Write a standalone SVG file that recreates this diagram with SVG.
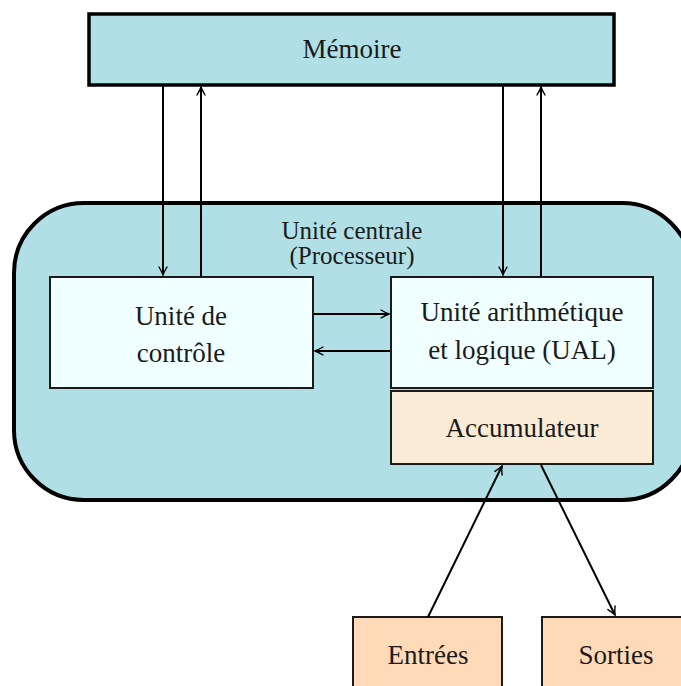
<svg xmlns="http://www.w3.org/2000/svg" width="681" height="686" viewBox="0 0 681 686">
<defs>
<marker id="arr" viewBox="-10 -5 12 10" refX="0" refY="0" markerWidth="12" markerHeight="10" markerUnits="userSpaceOnUse" orient="auto">
<path d="M-8,-4 Q-3,-1 0,0 Q-3,1 -8,4" fill="none" stroke="#000" stroke-width="1.4" stroke-linecap="round"/>
</marker>
<style>
text{font-family:'Liberation Serif','Times New Roman',Times,'DejaVu Serif',serif;font-size:27px;fill:#1a1a1a;text-anchor:middle}
.t{font-size:25px}
.c{stroke:#000;stroke-width:2;fill:none;marker-end:url(#arr)}
.box{stroke:#1a1a1a;stroke-width:2}
</style>
</defs>
<g id="memoire">
<rect x="89" y="14" width="525" height="71" fill="#b0e0e6" stroke="#000" stroke-width="3.5"/>
<text x="352" y="58" font-family="Liberation Serif, serif">Mémoire</text>
</g>
<g id="unite-centrale">
<rect x="14" y="203" width="678" height="297" rx="70" ry="70" fill="#b0e0e6" stroke="#000" stroke-width="4"/>
<text class="t" x="352" y="239">Unité centrale</text>
<text class="t" x="352" y="264">(Processeur)</text>
</g>
<g id="controle">
<rect class="box" x="50" y="277" width="263" height="111" fill="#f0ffff"/>
<text x="181" y="325">Unité de</text>
<text x="181" y="362">contrôle</text>
</g>
<g id="ual">
<rect class="box" x="391" y="277" width="262" height="111" fill="#f0ffff"/>
<text x="522" y="321">Unité arithmétique</text>
<text x="522" y="359">et logique (UAL)</text>
</g>
<g id="accumulateur">
<rect class="box" x="391" y="391" width="262" height="73" fill="#faebd7"/>
<text x="522" y="437">Accumulateur</text>
</g>
<g id="entrees">
<rect class="box" x="353" y="617" width="149" height="80" fill="#ffdab9"/>
<text x="428" y="664">Entrées</text>
</g>
<g id="sorties">
<rect class="box" x="542" y="617" width="149" height="80" fill="#ffdab9"/>
<text x="616" y="664">Sorties</text>
</g>
<g id="connectors">
<line class="c" x1="163" y1="86" x2="163" y2="275"/>
<line class="c" x1="201" y1="276" x2="201" y2="87"/>
<line class="c" x1="503" y1="86" x2="503" y2="275"/>
<line class="c" x1="541" y1="276" x2="541" y2="87"/>
<line class="c" x1="314" y1="314" x2="389" y2="314"/>
<line class="c" x1="390" y1="351" x2="315" y2="351"/>
<line class="c" x1="428" y1="617" x2="502" y2="466"/>
<line class="c" x1="541" y1="465" x2="615" y2="615"/>
</g>
</svg>
